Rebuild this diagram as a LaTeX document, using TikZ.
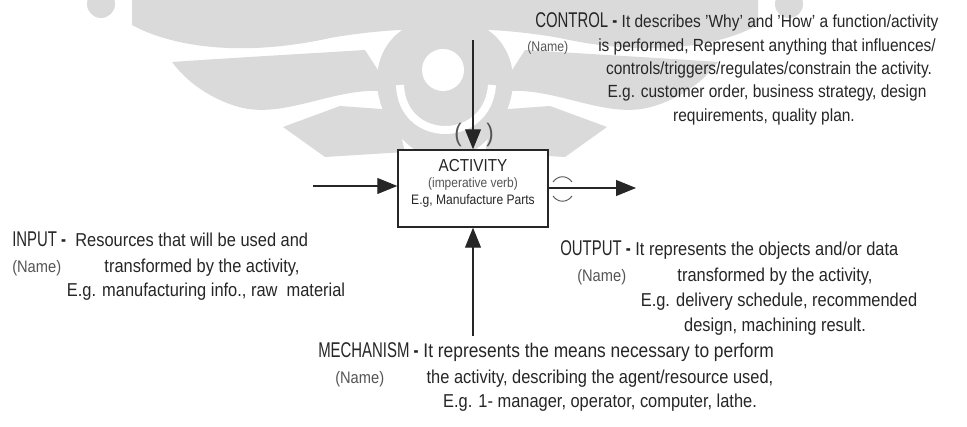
\documentclass[tikz,border=0pt]{standalone}
\usepackage{fontspec}
\setmainfont{Liberation Sans}[FakeStretch=0.88]
\newfontfamily\headfont{Liberation Sans}[FakeStretch=0.70]
\usetikzlibrary{arrows.meta}
\definecolor{ink}{HTML}{262626}
\definecolor{softink}{HTML}{555555}
\definecolor{emblem}{HTML}{DADADA}

\tikzset{
  % one half of the faint emblem behind the diagram (mirrored for the other half)
  emblemhalf/.pic={
    \fill[emblem] (101,4) circle (14);
    \fill[emblem] (132,-5) -- (132,25) .. controls (170,46) and (240,58) .. (330,38)
      .. controls (375,30) and (420,28) .. (445,30) -- (445,-5) -- cycle;
    \fill[emblem] (172,62) .. controls (230,58) and (300,54) .. (365,50) -- (392,92)
      .. controls (340,84) and (290,118) .. (243,108) .. controls (210,100) and (185,80) .. (172,62) -- cycle;
    \fill[emblem] (283,127) -- (340,106) -- (395,110) -- (405,152) -- (325,157) -- cycle;
  },
  txt/.style={inner sep=0pt, text=ink, font=\fontsize{14}{16}\selectfont},
  ctltxt/.style={inner sep=0pt, text=ink, font=\fontsize{13.2}{15}\selectfont},
  lbl/.style={inner sep=0pt, text=softink, font=\fontsize{12.5}{14}\selectfont},
  arr/.style={draw=ink, line width=0.8pt, -{Triangle[length=15pt,width=12pt]}},
  actbox/.style={draw=ink, line width=1.1pt, fill=white, minimum width=112.5pt, minimum height=57.75pt, inner sep=0pt}
}
\newcommand{\hd}[1]{{\headfont\fontsize{16}{18}\selectfont #1 \textbf{-}}}

\begin{document}
\begin{tikzpicture}[x=0.75pt,y=-0.75pt]
\useasboundingbox (0,0) rectangle (967,427);
\fill[white] (0,0) rectangle (967,427);

% background emblem
\pic at (0,0) {emblemhalf};
\pic[xscale=-1] at (890,0) {emblemhalf};
\fill[emblem] (445,18) .. controls (525,18) and (535,110) .. (472,152) -- (418,152)
  .. controls (355,110) and (365,18) .. (445,18) -- cycle;
\draw[white, line width=6pt] (400,85) .. controls (402,145) and (488,145) .. (492,85);
\fill[white] (443,70) circle (21);

% activity box
\node[actbox] (act) at (473,188.5) {};
\node[inner sep=0pt, text=ink, font=\fontsize{13}{15}\selectfont] (actname) at (473,166) {ACTIVITY};
\node[inner sep=0pt, text=softink, font=\fontsize{10.2}{12}\selectfont] (actverb) at (473,184) {(imperative verb)};
\node[inner sep=0pt, text=ink, font=\fontsize{10.3}{12}\selectfont] (actex) at (473,201) {E.g, Manufacture Parts};

% connectors
\coordinate (ctlTop) at (473,40);
\coordinate (inStart) at (313,186);
\coordinate (outEnd) at (636,188);
\coordinate (mechBot) at (473,336);
\draw[arr] (ctlTop) -- (act.north);
\draw[arr] (inStart) -- (inStart -| act.west);
\draw[arr] (outEnd -| act.east) -- (outEnd);
\draw[arr] (mechBot) -- (act.south);

% brackets round the control arrow and the output arrow
\node[inner sep=0pt, text=softink, font=\fontsize{19}{19}\selectfont] (lpar) at (458,135) {(};
\node[inner sep=0pt, text=softink, font=\fontsize{19}{19}\selectfont] (rpar) at (490,135) {)};
\draw[softink, line width=0.7pt] (553,182) .. controls (558,175) and (567,175) .. (572,182);
\draw[softink, line width=0.7pt] (553,196) .. controls (558,203) and (567,203) .. (572,196);

% CONTROL
\node[ctltxt, anchor=base west] (ctl1) at (535,28) {\hd{CONTROL} It describes 'Why' and 'How' a function/activity};
\node[lbl, anchor=base west, font=\fontsize{10.5}{12}\selectfont] (ctlname) at (527,52) {(Name)};
\node[ctltxt, anchor=base] (ctl2) at (767,52) {is performed, Represent anything that influences/};
\node[ctltxt, anchor=base] (ctl3) at (769,75) {controls/triggers/regulates/constrain the activity.};
\node[ctltxt, anchor=base] (ctl4) at (767,98) {E.g. customer order, business strategy, design};
\node[ctltxt, anchor=base] (ctl5) at (764,122) {requirements, quality plan.};

% INPUT
\node[txt, anchor=base west] (in1) at (12,247) {\hd{INPUT}\ \ Resources that will be used and};
\node[lbl, anchor=base west] (inname) at (12,273) {(Name)};
\node[txt, anchor=base] (in2) at (202,273) {transformed by the activity,};
\node[txt, anchor=base] (in3) at (206,297) {E.g. manufacturing info., raw\ \ material};

% OUTPUT
\node[txt, anchor=base west] (out1) at (560,256) {\hd{OUTPUT} It represents the objects and/or data};
\node[lbl, anchor=base west] (outname) at (577,282) {(Name)};
\node[txt, anchor=base] (out2) at (775,282) {transformed by the activity,};
\node[txt, anchor=base] (out3) at (779,307) {E.g. delivery schedule, recommended};
\node[txt, anchor=base] (out4) at (775,332) {design, machining result.};

% MECHANISM
\node[txt, anchor=base west, font=\fontsize{14.8}{16}\selectfont] (mech1) at (318,358) {\hd{MECHANISM} It represents the means necessary to perform};
\node[lbl, anchor=base west] (mechname) at (335,383) {(Name)};
\node[txt, anchor=base] (mech2) at (600,383) {the activity, describing the agent/resource used,};
\node[txt, anchor=base] (mech3) at (600,407) {E.g. 1- manager, operator, computer, lathe.};
\end{tikzpicture}
\end{document}
